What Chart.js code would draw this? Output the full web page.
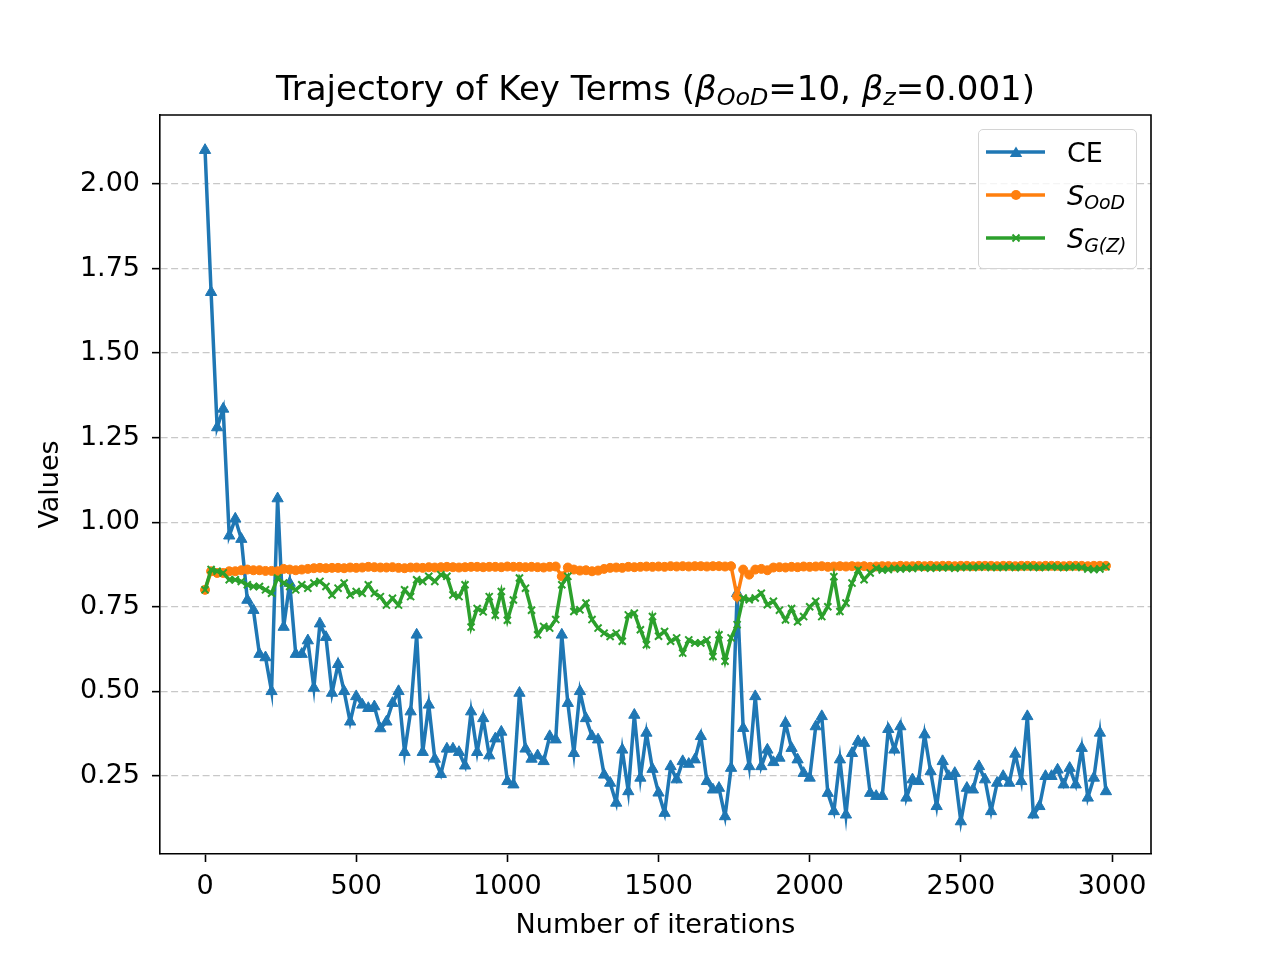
<!DOCTYPE html>
<html>
<head>
<meta charset="utf-8">
<script src="https://cdn.jsdelivr.net/npm/chart.js@4.4.1/dist/chart.umd.min.js"></script>
<style>
  html, body { margin: 0; padding: 0; background: #fff; }
  #wrap { position: relative; width: 1280px; height: 960px; font-family: 'DejaVu Sans', sans-serif; color: #000; }
  #c { position: absolute; left: 0; top: 0; }
  .title { position: absolute; left: 160px; width: 991px; top: 71px; text-align: center; font-size: 34px; line-height: 1; white-space: nowrap; }
  .sub { font-size: 70%; vertical-align: -0.2em; font-style: italic; }
  .it { font-style: italic; }
  .legend { position: absolute; left: 978px; top: 129px; width: 157px; height: 138px; border: 1.5px solid #d4d4d4; border-radius: 5px; background: rgba(255,255,255,0.8); }
  .lg-mark { position: absolute; left: 986px; }
  .lg-text { position: absolute; left: 1067px; font-size: 27px; line-height: 1; white-space: nowrap; }
</style>
</head>
<body>
<div id="wrap">
  <canvas id="c" width="1280" height="960" style="width:1280px;height:960px"></canvas>
  <div class="title">Trajectory of Key Terms (<span class="it">β</span><span class="sub">OoD</span>=10, <span class="it">β</span><span class="sub">z</span>=0.001)</div>
  <div class="legend"></div>
  <svg class="lg-mark" style="top:142px" width="60" height="20">
    <line x1="0" y1="10" x2="59" y2="10" stroke="#1f77b4" stroke-width="3.5"/>
    <polygon points="30,4.5 23.8,15 36.2,15" fill="#1f77b4"/>
  </svg>
  <svg class="lg-mark" style="top:185px" width="60" height="20">
    <line x1="0" y1="10" x2="59" y2="10" stroke="#ff7f0e" stroke-width="3.5"/>
    <circle cx="30" cy="10" r="5" fill="#ff7f0e"/>
  </svg>
  <svg class="lg-mark" style="top:228px" width="60" height="20">
    <line x1="0" y1="10" x2="59" y2="10" stroke="#2ca02c" stroke-width="3.5"/>
    <line x1="26.5" y1="6.5" x2="33.5" y2="13.5" stroke="#2ca02c" stroke-width="2"/>
    <line x1="26.5" y1="13.5" x2="33.5" y2="6.5" stroke="#2ca02c" stroke-width="2"/>
  </svg>
  <div class="lg-text" style="top:139px">CE</div>
  <div class="lg-text" style="top:182px"><span class="it">S</span><span class="sub">OoD</span></div>
  <div class="lg-text" style="top:225px"><span class="it">S</span><span class="sub">G(Z)</span></div>
</div>
<script>
// iterations logged every 20 steps
const iterations = [
  0, 20, 40, 60, 80, 100, 120, 140, 160, 180,
  200, 220, 240, 260, 280, 300, 320, 340, 360, 380,
  400, 420, 440, 460, 480, 500, 520, 540, 560, 580,
  600, 620, 640, 660, 680, 700, 720, 740, 760, 780,
  800, 820, 840, 860, 880, 900, 920, 940, 960, 980,
  1000, 1020, 1040, 1060, 1080, 1100, 1120, 1140, 1160, 1180,
  1200, 1220, 1240, 1260, 1280, 1300, 1320, 1340, 1360, 1380,
  1400, 1420, 1440, 1460, 1480, 1500, 1520, 1540, 1560, 1580,
  1600, 1620, 1640, 1660, 1680, 1700, 1720, 1740, 1760, 1780,
  1800, 1820, 1840, 1860, 1880, 1900, 1920, 1940, 1960, 1980,
  2000, 2020, 2040, 2060, 2080, 2100, 2120, 2140, 2160, 2180,
  2200, 2220, 2240, 2260, 2280, 2300, 2320, 2340, 2360, 2380,
  2400, 2420, 2440, 2460, 2480, 2500, 2520, 2540, 2560, 2580,
  2600, 2620, 2640, 2660, 2680, 2700, 2720, 2740, 2760, 2780,
  2800, 2820, 2840, 2860, 2880, 2900, 2920, 2940, 2960, 2980
];

const ceValues = [
  2.10, 1.68, 1.28, 1.335, 0.96, 1.01, 0.95, 0.77, 0.74, 0.61,
  0.60, 0.50, 1.07, 0.69, 0.82, 0.61, 0.61, 0.65, 0.51, 0.70,
  0.66, 0.495, 0.58, 0.50, 0.41, 0.485, 0.46, 0.45, 0.455, 0.39,
  0.41, 0.465, 0.50, 0.32, 0.44, 0.667, 0.32, 0.46, 0.30, 0.255,
  0.33, 0.33, 0.32, 0.28, 0.44, 0.32, 0.42, 0.31, 0.36, 0.38,
  0.234, 0.224, 0.495, 0.33, 0.30, 0.31, 0.293, 0.367, 0.357, 0.667,
  0.465, 0.317, 0.50, 0.42, 0.367, 0.357, 0.253, 0.229, 0.17, 0.327,
  0.204, 0.43, 0.244, 0.377, 0.27, 0.20, 0.14, 0.278, 0.239, 0.293,
  0.285, 0.298, 0.367, 0.234, 0.209, 0.214, 0.13, 0.273, 0.79, 0.391,
  0.278, 0.485, 0.278, 0.327, 0.29, 0.303, 0.406, 0.332, 0.298, 0.258,
  0.244, 0.396, 0.426, 0.199, 0.145, 0.298, 0.135, 0.317, 0.352, 0.347,
  0.199, 0.19, 0.19, 0.388, 0.327, 0.396, 0.185, 0.239, 0.234, 0.372,
  0.263, 0.16, 0.293, 0.249, 0.258, 0.115, 0.214, 0.209, 0.278, 0.239,
  0.145, 0.229, 0.249, 0.229, 0.315, 0.234, 0.426, 0.135, 0.16, 0.249,
  0.249, 0.268, 0.224, 0.273, 0.224, 0.332, 0.185, 0.244, 0.377, 0.204
];

const soodValues = [
  0.80, 0.855, 0.85, 0.85, 0.855, 0.855, 0.858, 0.86, 0.858, 0.858,
  0.856, 0.856, 0.855, 0.862, 0.86, 0.858, 0.86, 0.862, 0.864, 0.865,
  0.864, 0.865, 0.865, 0.864, 0.866, 0.865, 0.866, 0.868, 0.867, 0.866,
  0.866, 0.867, 0.865, 0.864, 0.866, 0.866, 0.865, 0.867, 0.866, 0.867,
  0.868, 0.867, 0.866, 0.867, 0.868, 0.868, 0.867, 0.868, 0.868, 0.867,
  0.869, 0.868, 0.868, 0.867, 0.868, 0.867, 0.866, 0.868, 0.869, 0.84,
  0.866, 0.86, 0.857, 0.858, 0.855, 0.857, 0.862, 0.865, 0.866, 0.865,
  0.868, 0.867, 0.868, 0.869, 0.868, 0.869, 0.868, 0.87, 0.869, 0.87,
  0.869, 0.87, 0.87, 0.869, 0.87, 0.87, 0.869, 0.87, 0.78, 0.86,
  0.845, 0.86, 0.862, 0.858, 0.866, 0.867, 0.866, 0.868, 0.867, 0.869,
  0.868, 0.869, 0.87, 0.868, 0.869, 0.87, 0.869, 0.87, 0.869, 0.87,
  0.868, 0.869, 0.87, 0.87, 0.869, 0.871, 0.87, 0.87, 0.871, 0.87,
  0.871, 0.87, 0.871, 0.871, 0.87, 0.871, 0.871, 0.87, 0.871, 0.871,
  0.871, 0.87, 0.871, 0.871, 0.87, 0.871, 0.871, 0.871, 0.87, 0.871,
  0.871, 0.871, 0.87, 0.871, 0.871, 0.871, 0.87, 0.871, 0.871, 0.871
];

const sgzValues = [
  0.80, 0.86, 0.855, 0.85, 0.83, 0.83, 0.825, 0.815, 0.81, 0.81,
  0.80, 0.79, 0.835, 0.82, 0.81, 0.80, 0.815, 0.805, 0.82, 0.825,
  0.81, 0.785, 0.805, 0.82, 0.785, 0.795, 0.79, 0.815, 0.79, 0.78,
  0.755, 0.775, 0.755, 0.80, 0.78, 0.83, 0.825, 0.84, 0.825, 0.845,
  0.84, 0.785, 0.78, 0.815, 0.69, 0.745, 0.735, 0.78, 0.725, 0.795,
  0.71, 0.77, 0.835, 0.805, 0.74, 0.667, 0.692, 0.687, 0.712, 0.815,
  0.84, 0.736, 0.741, 0.761, 0.712, 0.687, 0.672, 0.662, 0.672, 0.648,
  0.726, 0.731, 0.682, 0.638, 0.721, 0.663, 0.677, 0.648, 0.658, 0.613,
  0.652, 0.643, 0.643, 0.652, 0.603, 0.667, 0.589, 0.658, 0.697, 0.776,
  0.771, 0.776, 0.79, 0.756, 0.766, 0.74, 0.711, 0.745, 0.706, 0.721,
  0.75, 0.766, 0.721, 0.75, 0.839, 0.736, 0.761, 0.82, 0.859, 0.83,
  0.85, 0.864, 0.859, 0.86, 0.864, 0.862, 0.864, 0.863, 0.866, 0.865,
  0.864, 0.866, 0.865, 0.866, 0.864, 0.866, 0.867, 0.866, 0.867, 0.868,
  0.866, 0.867, 0.866, 0.868, 0.866, 0.867, 0.868, 0.867, 0.866, 0.867,
  0.868, 0.867, 0.866, 0.867, 0.868, 0.866, 0.862, 0.86, 0.862, 0.868
];

const xTicks = [0, 500, 1000, 1500, 2000, 2500, 3000];
const yTicks = [0.25, 0.5, 0.75, 1.0, 1.25, 1.5, 1.75, 2.0];

Chart.defaults.font.family = "'DejaVu Sans', sans-serif";
Chart.defaults.font.size = 27;
Chart.defaults.color = '#000';

const toPoints = (vals) => iterations.map((it, i) => ({ x: it, y: vals[i] }));

// top and right spines like matplotlib
const framePlugin = {
  id: 'frame',
  afterDraw(chart) {
    const { ctx, chartArea: a } = chart;
    ctx.save();
    ctx.strokeStyle = '#000';
    ctx.lineWidth = 1.6;
    ctx.beginPath();
    ctx.moveTo(a.left, a.top);
    ctx.lineTo(a.right, a.top);
    ctx.lineTo(a.right, a.bottom);
    ctx.stroke();
    ctx.restore();
  }
};

new Chart(document.getElementById('c'), {
  type: 'line',
  data: {
    datasets: [
      {
        label: 'CE',
        data: toPoints(ceValues),
        borderColor: '#1f77b4',
        backgroundColor: '#1f77b4',
        borderWidth: 3.5,
        pointStyle: 'triangle',
        pointRadius: 6.5,
        pointBorderWidth: 1,
        tension: 0,
        order: 2
      },
      {
        label: 'S_OoD',
        data: toPoints(soodValues),
        borderColor: '#ff7f0e',
        backgroundColor: '#ff7f0e',
        borderWidth: 3.5,
        pointStyle: 'circle',
        pointRadius: 4.5,
        pointBorderWidth: 1,
        tension: 0,
        order: 1
      },
      {
        label: 'S_G(Z)',
        data: toPoints(sgzValues),
        borderColor: '#2ca02c',
        backgroundColor: '#2ca02c',
        borderWidth: 3.5,
        pointStyle: 'crossRot',
        pointRadius: 5,
        pointBorderWidth: 2,
        tension: 0,
        order: 0
      }
    ]
  },
  options: {
    responsive: false,
    devicePixelRatio: 1,
    animation: false,
    events: [],
    layout: { padding: { left: 31, top: 115, right: 129, bottom: 14 } },
    plugins: {
      legend: { display: false },
      title: { display: false },
      tooltip: { enabled: false }
    },
    scales: {
      x: {
        type: 'linear',
        min: -149,
        max: 3129,
        afterFit: (s) => { s.height = 92; },
        afterBuildTicks: (s) => { s.ticks = xTicks.map(v => ({ value: v })); },
        ticks: { padding: 9, color: '#000', maxRotation: 0, callback: (v) => String(v) },
        grid: { drawOnChartArea: false, drawTicks: true, tickLength: 8, tickColor: '#000', tickWidth: 1.6 },
        border: { display: true, color: '#000', width: 1.6 },
        title: { display: true, text: 'Number of iterations', color: '#000', font: { size: 27 } }
      },
      y: {
        type: 'linear',
        min: 0.019,
        max: 2.204,
        afterFit: (s) => { s.width = 129; },
        afterBuildTicks: (s) => { s.ticks = yTicks.map(v => ({ value: v })); },
        ticks: { padding: 12, color: '#000', callback: (v) => Number(v).toFixed(2) },
        grid: { color: '#c8c8c8', lineWidth: 1.3, drawTicks: true, tickLength: 8, tickColor: '#000', tickWidth: 1.6 },
        border: { display: true, color: '#000', width: 1.6, dash: [7, 3.5] },
        title: { display: true, text: 'Values', color: '#000', font: { size: 27 } }
      }
    }
  },
  plugins: [framePlugin]
});
</script>
</body>
</html>
